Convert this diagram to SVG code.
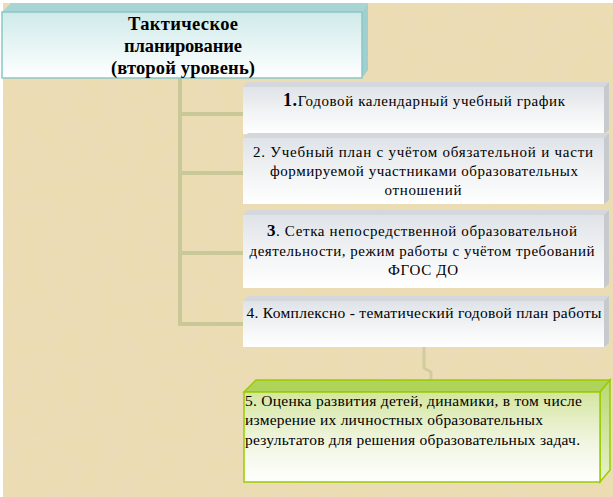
<svg xmlns="http://www.w3.org/2000/svg" width="613" height="497" viewBox="0 0 613 497">
<defs>
<linearGradient id="gTitle" x1="0" y1="0" x2="0" y2="1">
<stop offset="0" stop-color="#cfeaea"/><stop offset="1" stop-color="#ffffff"/>
</linearGradient>
<linearGradient id="gGray" x1="0" y1="0" x2="0" y2="1">
<stop offset="0" stop-color="#dfe3e8"/><stop offset="0.6" stop-color="#f4f5f6"/><stop offset="1" stop-color="#ffffff"/>
</linearGradient>
<linearGradient id="gGreen" x1="0" y1="0" x2="0" y2="1">
<stop offset="0" stop-color="#d4e6a0"/><stop offset="0.55" stop-color="#f0f5e0"/><stop offset="1" stop-color="#ffffff"/>
</linearGradient>
<linearGradient id="gGreenSide" x1="0" y1="0" x2="0" y2="1">
<stop offset="0" stop-color="#b8d870"/><stop offset="1" stop-color="#e8f2cc"/>
</linearGradient>
<filter id="tex" x="0" y="0" width="100%" height="100%">
<feTurbulence type="fractalNoise" baseFrequency="0.05" numOctaves="3" seed="4"/>
<feColorMatrix type="matrix" values="0 0 0 0 0.82  0 0 0 0 0.72  0 0 0 0 0.55  0 0 0 -1.5 1.0"/>
</filter>
<style>
.conn{stroke:#c9c898;stroke-width:4;fill:none;}
.faint{stroke:#d3cba0;stroke-width:3;fill:none;}
.gface{fill:#d4d8dc;}
.gside{fill:#c6cace;}
.gfront{fill:url(#gGray);}
</style>
</defs>
<rect x="0" y="0" width="613" height="497" fill="#ffffff"/>
<rect x="3" y="3" width="610" height="494" fill="#ebdcb2"/>
<rect x="3" y="3" width="610" height="494" filter="url(#tex)" opacity="0.45"/>

<g id="connectors">
<path class="conn" d="M180 78 V326"/>
<path class="conn" d="M180 114 H243"/>
<path class="conn" d="M180 173 H243"/>
<path class="conn" d="M180 253 H243"/>
<path class="conn" d="M180 324 H243"/>
<path class="faint" d="M424 347 V368 L431 372 V382"/>
</g>

<g font-family="'Liberation Serif', 'DejaVu Serif', serif" fill="#000">
<g id="title">
<polygon points="2,12 11,3 368,3 362,12" fill="#a9d4d4"/>
<polygon points="362,12 368,3 368,70 362,78" fill="#9fcfcf"/>
<rect x="2" y="12" width="360" height="66" fill="url(#gTitle)" stroke="#8cc6c6" stroke-width="1.5"/>
<text x="183" y="30" font-size="18.5" font-weight="bold" text-anchor="middle" textLength="110">Тактическое</text>
<text x="183" y="52" font-size="18.5" font-weight="bold" text-anchor="middle" textLength="118">планирование</text>
<text x="183" y="74" font-size="18.5" font-weight="bold" text-anchor="middle" textLength="144">(второй уровень)</text>
</g>

<g id="box1">
<polygon class="gface" points="243,87 248,82 609,82 604,87"/>
<polygon class="gside" points="604,87 609,82 609,130 604,134"/>
<rect class="gfront" x="243" y="87" width="361" height="47"/>
<text x="424" y="106" font-size="15" text-anchor="middle" textLength="282"><tspan font-weight="bold" font-size="18">1.</tspan>Годовой  календарный учебный график</text>
</g>

<g id="box2">
<polygon class="gface" points="243,138 248,133 609,133 604,138"/>
<polygon class="gside" points="604,138 609,133 609,200 604,204"/>
<rect class="gfront" x="243" y="138" width="361" height="66"/>
<text x="423" y="157" font-size="15" text-anchor="middle" textLength="340">2. Учебный план с учётом  обязательной  и  части</text>
<text x="424" y="176" font-size="15" text-anchor="middle" textLength="308">формируемой участниками образовательных</text>
<text x="423" y="195" font-size="15" text-anchor="middle" textLength="77">отношений</text>
</g>

<g id="box3">
<polygon class="gface" points="243,215 248,210 609,210 604,215"/>
<polygon class="gside" points="604,215 609,210 609,284 604,288"/>
<rect class="gfront" x="243" y="215" width="361" height="73"/>
<text x="422" y="236" font-size="15" text-anchor="middle" textLength="310"><tspan font-weight="bold" font-size="17">3</tspan>. Сетка непосредственной  образовательной</text>
<text x="422" y="256" font-size="15" text-anchor="middle" textLength="345">деятельности, режим работы с учётом требований</text>
<text x="423" y="275" font-size="15" text-anchor="middle" textLength="70">ФГОС ДО</text>
</g>

<g id="box4">
<polygon class="gface" points="243,301 248,296 609,296 604,301"/>
<polygon class="gside" points="604,301 609,296 609,343 604,347"/>
<rect class="gfront" x="243" y="301" width="361" height="46"/>
<text x="424" y="318" font-size="15.5" text-anchor="middle" textLength="355">4. Комплексно - тематический годовой план работы</text>
</g>

<g id="box5">
<polygon points="244,392 256,380 610,380 600,392" fill="#b0d45a" stroke="#99cc00" stroke-width="1.5"/>
<polygon points="600,392 610,380 610,470 600,482" fill="url(#gGreenSide)" stroke="#99cc00" stroke-width="1.5"/>
<rect x="244" y="392" width="356" height="90" fill="url(#gGreen)" stroke="#99cc00" stroke-width="1.5"/>
<text x="245" y="406" font-size="15.5" textLength="337">5. Оценка развития детей, динамики, в том числе</text>
<text x="245" y="425" font-size="15.5" textLength="298">измерение их личностных образовательных</text>
<text x="245" y="445" font-size="15.5" textLength="335">результатов для решения образовательных задач.</text>
</g>
</g>
</svg>
